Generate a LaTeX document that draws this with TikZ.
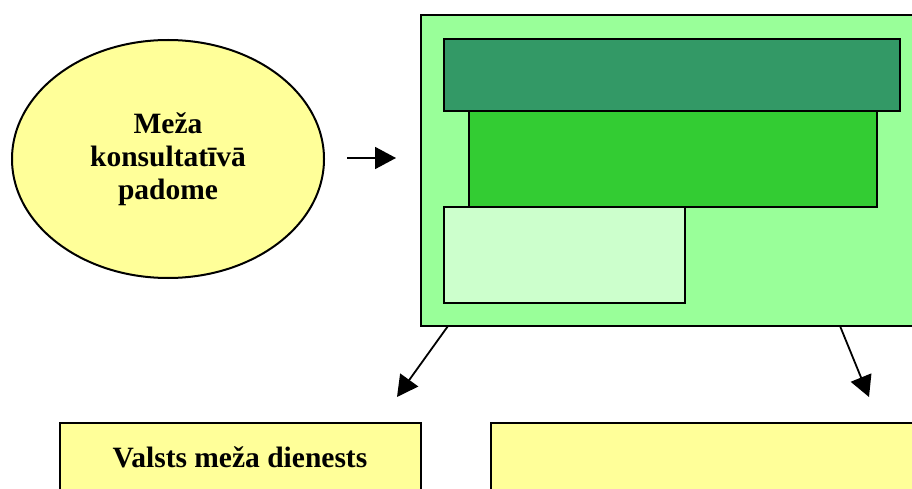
\documentclass[tikz,border=0pt]{standalone}
\usepackage{fontspec}
\setmainfont{Liberation Serif}
\usetikzlibrary{arrows.meta,shapes.geometric,positioning}
\definecolor{ylw}{HTML}{FFFF99}
\definecolor{lgrn}{HTML}{99FF99}
\definecolor{dgrn}{HTML}{339966}
\definecolor{mgrn}{HTML}{33CC33}
\definecolor{pgrn}{HTML}{CCFFCC}
\tikzset{
  px/.style={x=1pt, y=-1pt},
  oval/.style={ellipse, draw=black, line width=2pt, fill=ylw, inner sep=0pt,
               minimum width=312pt, minimum height=238pt, align=center,
               font=\fontsize{29.5}{33}\selectfont\bfseries},
  ybox/.style={rectangle, draw=black, line width=2pt, fill=ylw, inner sep=0pt, anchor=north west},
  gbox/.style={rectangle, draw=black, line width=2pt, inner sep=0pt, anchor=north west},
  lbl/.style={font=\fontsize{29.5}{33}\selectfont\bfseries, anchor=base},
  arr/.style={black, line width=1.8pt, -{Triangle[length=21pt, width=22pt]}},
}
\begin{document}
\begin{tikzpicture}[px]
  \clip (0,0) rectangle (912,489);
  \fill[white] (0,0) rectangle (912,489);
  % council (ellipse)
  \node[oval] (padome) at (168,159) {Meža\\konsultatīvā\\padome};
  % ministry frame with its three inner blocks
  \node[gbox, fill=lgrn, minimum width=520pt, minimum height=311pt] (ministrija) at (420,14) {};
  \node[gbox, fill=dgrn, minimum width=456pt, minimum height=72pt] (blokA) at (443,38) {};
  \node[gbox, fill=mgrn, minimum width=408pt, minimum height=96pt] (blokB) at (468,110) {};
  \node[gbox, fill=pgrn, minimum width=241pt, minimum height=96pt] (blokC) at (443,206) {};
  % lower boxes
  \node[ybox, minimum width=361pt, minimum height=90pt] (dienests) at (59,422) {};
  \node[ybox, minimum width=440pt, minimum height=90pt] (otrs) at (490,422) {};
  \node[lbl] (dienestsT) at (240,467) {Valsts meža dienests};
  % connectors
  \coordinate (a1s) at (347,158);
  \coordinate (a1e) at (396,158);
  \coordinate (a2s) at (448,326);
  \coordinate (a2e) at (397,397);
  \coordinate (a3s) at (840,326);
  \coordinate (a3e) at (869,397);
  \draw[arr] (a1s) -- (a1e);
  \draw[arr] (a2s) -- (a2e);
  \draw[arr] (a3s) -- (a3e);
\end{tikzpicture}
\end{document}
